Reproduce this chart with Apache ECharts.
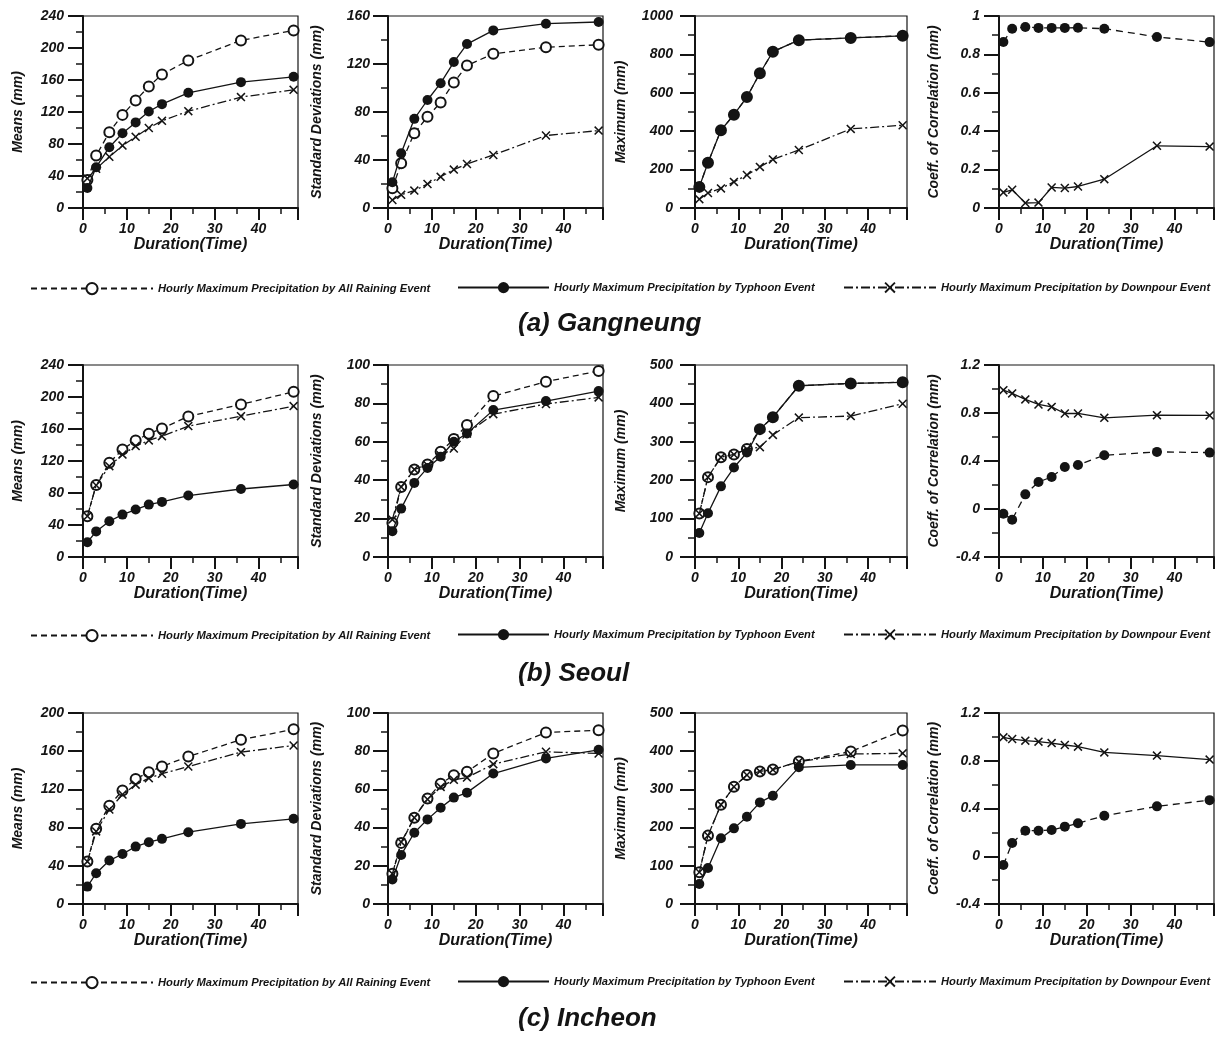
<!DOCTYPE html>
<html><head><meta charset="utf-8">
<script src="https://cdn.jsdelivr.net/npm/echarts@6/dist/echarts.min.js"></script>
<style>html,body{margin:0;padding:0;background:#fff}#c{width:1217px;height:1037px}</style>
</head><body><div id="c"></div>
<script>
// ---------- DATA ----------
const durations = [1, 3, 6, 9, 12, 15, 18, 24, 36, 48];

// (a) Gangneung
const gnMeanAll = [35, 65.5, 94.7, 116.4, 134.4, 151.9, 167, 184.5, 209.5, 222];
const gnMeanTyp = [25, 51, 76, 93.5, 107, 120.6, 129.8, 144, 157.3, 164];
const gnMeanDwn = [37, 49, 64, 78, 89, 100, 109, 121, 138.6, 147.7];
const gnSdAll = [16.4, 37.3, 62.3, 76, 88, 104.6, 118.8, 128.5, 134, 136];
const gnSdTyp = [21.4, 45.6, 74.3, 90, 104, 121.6, 136.6, 148, 153.6, 155];
const gnSdDwn = [6.7, 11, 14.5, 20, 26, 32, 36.7, 44.2, 60.4, 64.5];
const gnMaxAll = [110, 236, 405, 486, 578, 702, 814, 874, 886, 897];
const gnMaxTyp = [110, 236, 405, 486, 578, 702, 814, 874, 886, 897];
const gnMaxDwn = [46, 78, 102, 136, 172, 214, 253, 302, 412, 431];
const gnCorTyp = [0.865, 0.934, 0.943, 0.938, 0.938, 0.938, 0.939, 0.934, 0.891, 0.864];
const gnCorDwn = [0.081, 0.095, 0.026, 0.028, 0.107, 0.104, 0.112, 0.15, 0.324, 0.32];

// (b) Seoul
const seMeanAll = [51, 90, 117.7, 134.4, 145.7, 154, 160.7, 175.7, 190.7, 206.6];
const seMeanTyp = [18.4, 32, 44.7, 53, 59.3, 65.5, 68.9, 76.8, 85, 90.6];
const seMeanDwn = [51, 89.7, 113.5, 128, 138.6, 145.7, 151, 163.6, 176, 188.6];
const seSdAll = [17.7, 36.5, 45.6, 48.2, 54.8, 61.4, 68.7, 83.8, 91.3, 96.9];
const seSdTyp = [13.4, 25.2, 38.6, 46.4, 52.2, 60, 64.3, 76.5, 81.2, 86.4];
const seSdDwn = [19.5, 36.5, 45.6, 47.8, 53, 56.5, 64.3, 74.4, 79.7, 83.1];
const seMaxAll = [113, 208, 260, 267, 281, 333, 364, 446, 452, 455];
const seMaxTyp = [62.4, 114, 184, 233, 272, 333, 364, 446, 452, 455];
const seMaxDwn = [113, 208, 260, 267, 281, 286, 318, 363, 367, 399];
const seCorTyp = [-0.039, -0.089, 0.122, 0.225, 0.267, 0.35, 0.367, 0.448, 0.476, 0.47];
const seCorDwn = [0.99, 0.963, 0.913, 0.871, 0.851, 0.796, 0.796, 0.76, 0.782, 0.78];

// (c) Incheon
const icMeanAll = [44.4, 78.7, 103, 118.9, 131, 138, 144, 154.5, 172, 183];
const icMeanTyp = [18.2, 32.2, 45.5, 52.4, 60.1, 64.7, 68.2, 75.2, 83.9, 89.2];
const icMeanDwn = [44.4, 76, 99, 114.7, 125, 131.8, 136.4, 144, 159, 166];
const icSdAll = [15.8, 32, 45.2, 55.2, 63, 67.4, 69.2, 78.8, 89.8, 91];
const icSdTyp = [12.8, 25.7, 37.3, 44.3, 50.4, 55.7, 58.3, 68.3, 76.2, 80.7];
const icSdDwn = [15.8, 32.4, 45.2, 54.8, 61.3, 65, 66.2, 73.2, 79.7, 78.8];
const icMaxAll = [83, 179, 260, 307, 338, 347, 352, 373, 399, 454];
const icMaxTyp = [52.4, 94.2, 172, 198, 228.6, 266, 283.6, 357.8, 364, 364];
const icMaxDwn = [83, 179, 260, 307, 337.7, 347, 351.7, 372.6, 392.7, 394.4];
const icCorTyp = [-0.073, 0.111, 0.214, 0.214, 0.22, 0.248, 0.276, 0.34, 0.418, 0.47];
const icCorDwn = [0.996, 0.982, 0.968, 0.96, 0.948, 0.932, 0.918, 0.87, 0.843, 0.81];

// axis ranges [min, max, interval]
const meanAxisGn = [0, 240, 40];
const sdAxisGn = [0, 160, 40];
const maxAxisGn = [0, 1000, 200];
const corAxisGn = [0, 1, 0.2];
const meanAxisSe = [0, 240, 40];
const sdAxisSe = [0, 100, 20];
const maxAxisSe = [0, 500, 100];
const corAxisSe = [-0.4, 1.2, 0.4];
const meanAxisIc = [0, 200, 40];
const sdAxisIc = [0, 100, 20];
const maxAxisIc = [0, 500, 100];
const corAxisIc = [-0.4, 1.2, 0.4];
const xAxisRange = [0, 49, 10];

const yNames = ['Means (mm)', 'Standard Deviations (mm)', 'Maximum (mm)', 'Coeff. of Correlation (mm)'];
const xName = 'Duration(Time)';
const N_ALL = 'Hourly Maximum Precipitation by All Raining Event';
const N_TYP = 'Hourly Maximum Precipitation by Typhoon Event';
const N_DWN = 'Hourly Maximum Precipitation by Downpour Event';
const stationTitles = ['(a) Gangneung', '(b) Seoul', '(c) Incheon'];

// ---------- LAYOUT / STYLE ----------
const INK = '#141414';
const FONT = "'Liberation Sans', Arial, sans-serif";
const colLeft = [83, 388, 695, 999];
const colWidth = [215, 215, 212, 215];
const rowTop = [16, 365, 713];
const rowHeight = [192, 192, 191];
const yNameGap = [58, 64, 67, 58];
const yLabelMargin = [19, 18, 22, 19];
const legendY = [289, 636, 983];
const titleY = [325, 675, 1020];

const XPATH = 'path://M0,1.2L1.2,0L5,3.8L8.8,0L10,1.2L6.2,5L10,8.8L8.8,10L5,6.2L1.2,10L0,8.8L3.8,5Z';
const ST = {
  all: {symbol: 'emptyCircle', size: 10, dash: [6, 4], z: 2},
  typ: {symbol: 'circle', size: 10, dash: 'solid', z: 4},
  dwn: {symbol: XPATH, size: 9, dash: [9, 3, 2, 3], z: 3},
  corTyp: {symbol: 'circle', size: 10, dash: [7, 5], z: 4},
  corDwn: {symbol: XPATH, size: 9, dash: 'solid', z: 3}
};

const panels = [
  {row: 0, col: 0, axis: meanAxisGn, series: [[N_ALL, ST.all, gnMeanAll], [N_DWN, ST.dwn, gnMeanDwn], [N_TYP, ST.typ, gnMeanTyp]]},
  {row: 0, col: 1, axis: sdAxisGn, series: [[N_ALL, ST.all, gnSdAll], [N_DWN, ST.dwn, gnSdDwn], [N_TYP, ST.typ, gnSdTyp]]},
  {row: 0, col: 2, axis: maxAxisGn, series: [[N_ALL, ST.all, gnMaxAll], [N_DWN, ST.dwn, gnMaxDwn], [N_TYP, ST.typ, gnMaxTyp]]},
  {row: 0, col: 3, axis: corAxisGn, series: [[N_DWN, ST.corDwn, gnCorDwn], [N_TYP, ST.corTyp, gnCorTyp]]},
  {row: 1, col: 0, axis: meanAxisSe, series: [[N_ALL, ST.all, seMeanAll], [N_DWN, ST.dwn, seMeanDwn], [N_TYP, ST.typ, seMeanTyp]]},
  {row: 1, col: 1, axis: sdAxisSe, series: [[N_ALL, ST.all, seSdAll], [N_DWN, ST.dwn, seSdDwn], [N_TYP, ST.typ, seSdTyp]]},
  {row: 1, col: 2, axis: maxAxisSe, series: [[N_ALL, ST.all, seMaxAll], [N_DWN, ST.dwn, seMaxDwn], [N_TYP, ST.typ, seMaxTyp]]},
  {row: 1, col: 3, axis: corAxisSe, series: [[N_DWN, ST.corDwn, seCorDwn], [N_TYP, ST.corTyp, seCorTyp]]},
  {row: 2, col: 0, axis: meanAxisIc, series: [[N_ALL, ST.all, icMeanAll], [N_DWN, ST.dwn, icMeanDwn], [N_TYP, ST.typ, icMeanTyp]]},
  {row: 2, col: 1, axis: sdAxisIc, series: [[N_ALL, ST.all, icSdAll], [N_DWN, ST.dwn, icSdDwn], [N_TYP, ST.typ, icSdTyp]]},
  {row: 2, col: 2, axis: maxAxisIc, series: [[N_ALL, ST.all, icMaxAll], [N_DWN, ST.dwn, icMaxDwn], [N_TYP, ST.typ, icMaxTyp]]},
  {row: 2, col: 3, axis: corAxisIc, series: [[N_DWN, ST.corDwn, icCorDwn], [N_TYP, ST.corTyp, icCorTyp]]}
];

const lblStyle = {fontFamily: FONT, fontStyle: 'italic', fontWeight: 'bold', color: INK};
const fmt = v => String(Math.round(v * 1000) / 1000);

const grids = [], xAxes = [], yAxes = [], series = [];
panels.forEach((p, gi) => {
  grids.push({show: true, borderColor: INK, borderWidth: 1.2, backgroundColor: 'transparent',
    left: colLeft[p.col], top: rowTop[p.row], width: colWidth[p.col], height: rowHeight[p.row], containLabel: false});
  xAxes.push({type: 'value', gridIndex: gi, min: xAxisRange[0], max: xAxisRange[1], interval: xAxisRange[2],
    axisLine: {show: true, onZero: false, lineStyle: {color: INK, width: 2}},
    axisTick: {show: true, length: 12, lineStyle: {color: INK, width: 2}},
    minorTick: {show: true, splitNumber: 2, length: 6, lineStyle: {color: INK, width: 1.5}},
    splitLine: {show: false}, minorSplitLine: {show: false},
    axisLabel: Object.assign({margin: 14, fontSize: 14, showMaxLabel: false,
      formatter: v => (Math.abs(v % 10) < 1e-9 ? String(v) : '')}, lblStyle),
    name: xName, nameLocation: 'middle', nameGap: 27,
    nameTextStyle: Object.assign({fontSize: 16}, lblStyle)});
  yAxes.push({type: 'value', gridIndex: gi, min: p.axis[0], max: p.axis[1], interval: p.axis[2],
    axisLine: {show: true, onZero: false, lineStyle: {color: INK, width: 2}},
    axisTick: {show: true, length: 15, lineStyle: {color: INK, width: 2}},
    minorTick: {show: true, splitNumber: 2, length: 7, lineStyle: {color: INK, width: 1.5}},
    splitLine: {show: false}, minorSplitLine: {show: false},
    axisLabel: Object.assign({margin: yLabelMargin[p.col], fontSize: 14, formatter: fmt}, lblStyle),
    name: yNames[p.col], nameLocation: 'middle', nameGap: yNameGap[p.col],
    nameTextStyle: Object.assign({fontSize: 14}, lblStyle)});
  p.series.forEach(([name, st, vals]) => {
    series.push({type: 'line', name, xAxisIndex: gi, yAxisIndex: gi,
      data: durations.map((d, i) => [d, vals[i]]),
      symbol: st.symbol, symbolSize: st.size, showAllSymbol: true, z: st.z,
      lineStyle: {color: INK, width: 1.3, type: st.dash},
      itemStyle: {color: INK, borderColor: INK, borderWidth: st.symbol === 'emptyCircle' ? 1.2 : 0},
      emphasis: {disabled: true}, silent: true, animation: false});
  });
});

const legendDefs = [
  {name: N_ALL, left: 30, w: 122},
  {name: N_TYP, left: 457, w: 91},
  {name: N_DWN, left: 843, w: 92}
];
const legends = [];
legendY.forEach(y => {
  legendDefs.forEach(d => {
    legends.push({data: [d.name], left: d.left, top: y - 7, padding: 0, itemWidth: d.w, itemHeight: 14,
      itemGap: 0, selectedMode: false,
      textStyle: {fontFamily: FONT, fontStyle: 'italic', fontWeight: 'bold', fontSize: 11.2, color: INK}});
  });
});

const titles = stationTitles.map((t, i) => ({text: t, left: 518, top: titleY[i] - 14, padding: 0,
  textStyle: {fontFamily: FONT, fontStyle: 'italic', fontWeight: 'bold', fontSize: 26, color: INK}}));

const chart = echarts.init(document.getElementById('c'), null, {renderer: 'canvas'});
chart.setOption({
  backgroundColor: '#fff',
  animation: false,
  title: titles,
  legend: legends,
  grid: grids,
  xAxis: xAxes,
  yAxis: yAxes,
  series: series
});
</script>
</body></html>
